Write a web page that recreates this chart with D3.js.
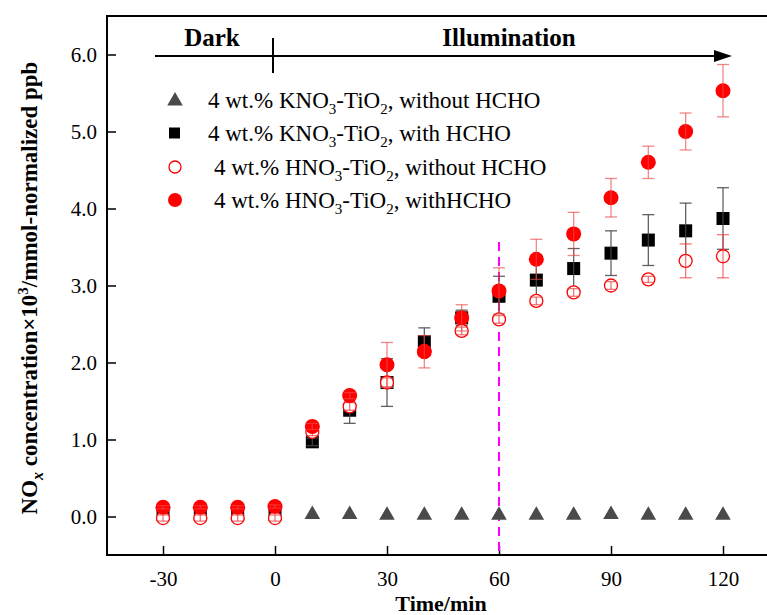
<!DOCTYPE html>
<html>
<head>
<meta charset="utf-8">
<script src="https://cdn.jsdelivr.net/npm/d3@7"></script>
<style>
  body { margin: 0; background: #fff; }
  text { font-family: "Liberation Serif", "Times New Roman", serif; }
</style>
</head>
<body>
<div id="chart"></div>
<script>
// data
var times = [-30, -20, -10, 0, 10, 20, 30, 40, 50, 60, 70, 80, 90, 100, 110, 120];
var triTimes = [10, 20, 30, 40, 50, 60, 70, 80, 90, 100, 110, 120];
var triVals = [0.04, 0.04, 0.03, 0.03, 0.03, 0.03, 0.03, 0.03, 0.04, 0.03, 0.03, 0.03];
var sqVals = [0.03, 0.03, 0.03, 0.03, 0.97, 1.38, 1.74, 2.27, 2.58, 2.86, 3.07, 3.22, 3.42, 3.59, 3.71, 3.87];
var sqErr = [0.05, 0.05, 0.05, 0.05, 0.05, 0.17, 0.31, 0.18, 0.1, 0.26, 0.23, 0.26, 0.29, 0.33, 0.36, 0.4];
var openVals = [-0.02, -0.02, -0.02, -0.02, 1.1, 1.43, 1.74, 2.15, 2.41, 2.56, 2.8, 2.91, 3.0, 3.08, 3.32, 3.38];
var openErr = [0.04, 0.04, 0.04, 0.04, 0.05, 0.05, 0.06, 0.05, 0.05, 0.05, 0.05, 0.05, 0.05, 0.04, 0.22, 0.28];
var fillVals = [0.12, 0.12, 0.12, 0.13, 1.17, 1.57, 1.97, 2.14, 2.58, 2.93, 3.34, 3.67, 4.14, 4.6, 5.0, 5.53];
var fillErr = [0.02, 0.02, 0.02, 0.02, 0.04, 0.04, 0.29, 0.21, 0.17, 0.3, 0.26, 0.28, 0.25, 0.21, 0.24, 0.34];
var xTicks = [-30, 0, 30, 60, 90, 120];
var yTicks = [0, 1, 2, 3, 4, 5, 6];

var svgWidth = 767, svgHeight = 615;

var svg = d3.select("#chart").append("svg")
  .attr("width", svgWidth)
  .attr("height", svgHeight);

var x = d3.scaleLinear().domain([-45, 135]).range([107, 779]);
var y = d3.scaleLinear().domain([-0.5, 6.5]).range([555, 16]);

// frame
svg.append("rect")
  .attr("x", x(-45)).attr("y", y(6.5))
  .attr("width", x(135) - x(-45)).attr("height", y(-0.5) - y(6.5))
  .attr("fill", "none").attr("stroke", "#000").attr("stroke-width", 2);

// axes, ticks inward
var bottomAxis = d3.axisBottom(x).tickValues(xTicks).tickSize(-9).tickPadding(16).tickFormat(d => String(d));
var leftAxis = d3.axisLeft(y).tickValues(yTicks).tickSize(-9).tickPadding(10).tickFormat(d3.format(".1f"));

var gx = svg.append("g").attr("transform", `translate(0, ${y(-0.5)})`).call(bottomAxis);
var gy = svg.append("g").attr("transform", `translate(${x(-45)}, 0)`).call(leftAxis);
[gx, gy].forEach(g => {
  g.select(".domain").remove();
  g.selectAll(".tick line").attr("stroke", "#000").attr("stroke-width", 1.5);
  g.selectAll(".tick text").attr("fill", "#000").style("font-size", "21px");
});

// dark / illumination arrow
svg.append("line")
  .attr("x1", 155).attr("x2", 718).attr("y1", 56).attr("y2", 56)
  .attr("stroke", "#000").attr("stroke-width", 2);
svg.append("path")
  .attr("d", "M714,50 L732,56 L714,62 Z").attr("fill", "#000");
svg.append("line")
  .attr("x1", 273).attr("x2", 273).attr("y1", 38).attr("y2", 73)
  .attr("stroke", "#000").attr("stroke-width", 2);

svg.append("text").attr("x", 212).attr("y", 46).attr("text-anchor", "middle")
  .style("font-size", "25px").style("font-weight", "bold").text("Dark");
svg.append("text").attr("x", 509).attr("y", 46).attr("text-anchor", "middle")
  .style("font-size", "25px").style("font-weight", "bold").text("Illumination");

// magenta dashed line at 60 min
svg.append("line")
  .attr("x1", x(60)).attr("x2", x(60)).attr("y1", 242).attr("y2", y(-0.5))
  .attr("stroke", "#ff00ff").attr("stroke-width", 2).attr("stroke-dasharray", "9,6");

var plot = svg.append("g");

function errorBars(vals, errs, color) {
  var g = plot.append("g").attr("stroke", color).attr("stroke-width", 1.3);
  times.forEach((t, i) => {
    var cx = x(t), y1 = y(vals[i] + errs[i]), y2 = y(vals[i] - errs[i]);
    g.append("line").attr("x1", cx).attr("x2", cx).attr("y1", y1).attr("y2", y2);
    g.append("line").attr("x1", cx - 6).attr("x2", cx + 6).attr("y1", y1).attr("y2", y1);
    g.append("line").attr("x1", cx - 6).attr("x2", cx + 6).attr("y1", y2).attr("y2", y2);
  });
}

// triangles
plot.selectAll(".tri").data(triTimes).enter().append("path")
  .attr("d", d3.symbol(d3.symbolTriangle, 105))
  .attr("transform", (d, i) => `translate(${x(d)}, ${y(triVals[i]) + 1})`)
  .attr("fill", "#4a4a4a");

// squares
plot.selectAll(".sq").data(times).enter().append("rect")
  .attr("x", d => x(d) - 6.5)
  .attr("y", (d, i) => y(sqVals[i]) - 6.5)
  .attr("width", 13).attr("height", 13)
  .attr("fill", "#000");
errorBars(sqVals, sqErr, "rgba(70,70,70,0.85)");

// open circles
plot.selectAll(".open").data(times).enter().append("circle")
  .attr("cx", d => x(d))
  .attr("cy", (d, i) => y(openVals[i]))
  .attr("r", 6.5)
  .attr("fill", "#fff").attr("stroke", "#ff0000").attr("stroke-width", 1.3);
errorBars(openVals, openErr, "rgba(235,60,60,0.7)");

// filled circles
plot.selectAll(".fill").data(times).enter().append("circle")
  .attr("cx", d => x(d))
  .attr("cy", (d, i) => y(fillVals[i]))
  .attr("r", 7.5)
  .attr("fill", "#ff0000");
errorBars(fillVals, fillErr, "rgba(235,70,70,0.65)");

// legend
var legend = svg.append("g");
var legY = [100, 133, 167, 200];
legend.append("path").attr("d", d3.symbol(d3.symbolTriangle, 105))
  .attr("transform", `translate(175, ${legY[0] + 1})`).attr("fill", "#4a4a4a");
legend.append("rect").attr("x", 169).attr("y", legY[1] - 5.5).attr("width", 11).attr("height", 11).attr("fill", "#000");
legend.append("circle").attr("cx", 175).attr("cy", legY[2]).attr("r", 6)
  .attr("fill", "#fff").attr("stroke", "#ff0000").attr("stroke-width", 1.3);
legend.append("circle").attr("cx", 175).attr("cy", legY[3]).attr("r", 7).attr("fill", "#ff0000");

var legText = [
  { x: 208, a: "4 wt.% KNO", b: "-TiO", c: ", without HCHO" },
  { x: 208, a: "4 wt.% KNO", b: "-TiO", c: ", with HCHO" },
  { x: 214, a: "4 wt.% HNO", b: "-TiO", c: ", without HCHO" },
  { x: 214, a: "4 wt.% HNO", b: "-TiO", c: ", withHCHO" }
];
legText.forEach((d, i) => {
  var t = legend.append("text").attr("x", d.x).attr("y", legY[i] + 8).style("font-size", "23px");
  t.append("tspan").text(d.a);
  t.append("tspan").attr("dy", 6).style("font-size", "15px").text("3");
  t.append("tspan").attr("dy", -6).text(d.b);
  t.append("tspan").attr("dy", 6).style("font-size", "15px").text("2");
  t.append("tspan").attr("dy", -6).text(d.c);
});

// axis titles
svg.append("text").attr("x", 441).attr("y", 611).attr("text-anchor", "middle")
  .style("font-size", "22px").style("font-weight", "bold").text("Time/min");

var yl = svg.append("text")
  .attr("transform", "translate(37, 288) rotate(-90)")
  .attr("text-anchor", "middle")
  .style("font-size", "23px").style("font-weight", "bold");
yl.append("tspan").text("NO");
yl.append("tspan").attr("dy", 6).style("font-size", "16px").style("font-style", "italic").text("x");
yl.append("tspan").attr("dy", -6).text(" concentration\u00d710");
yl.append("tspan").attr("dy", -9).style("font-size", "15px").text("3");
yl.append("tspan").attr("dy", 9).text("/mmol-normalized ppb");
</script>
</body>
</html>
